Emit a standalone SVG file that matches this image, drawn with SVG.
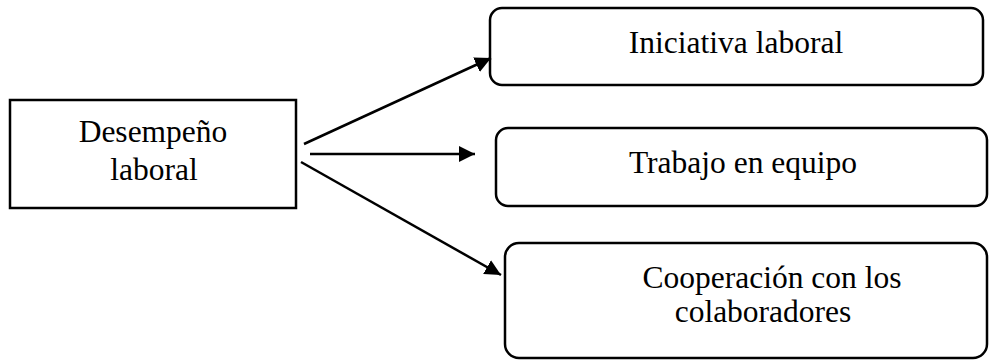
<svg xmlns="http://www.w3.org/2000/svg" width="990" height="360" viewBox="0 0 990 360">
<style>
.box{fill:#fff;stroke:#000;stroke-width:2.5}
.t{font-family:"Liberation Serif","Times New Roman",serif;font-size:31.5px;fill:#000;text-anchor:middle}
.c{stroke:#000;stroke-width:2.5;fill:none}
</style>
<defs>
<marker id="ah" markerUnits="userSpaceOnUse" markerWidth="16" markerHeight="16" refX="16" refY="8" orient="auto">
<path d="M0,0 L16,8 L0,16 z" fill="#000"/>
</marker>
</defs>
<rect width="990" height="360" fill="#fff"/>
<g id="desempeno">
<rect class="box" x="10" y="100" width="286" height="108"/>
<text class="t" x="153" y="142">Desempeño</text>
<text class="t" x="154" y="180">laboral</text>
</g>
<g id="iniciativa">
<rect class="box" x="490" y="8" width="493" height="77" rx="12"/>
<text class="t" x="736" y="53">Iniciativa laboral</text>
</g>
<g id="trabajo">
<rect class="box" x="496" y="128" width="491" height="78" rx="12"/>
<text class="t" x="743" y="173">Trabajo en equipo</text>
</g>
<g id="cooperacion">
<rect class="box" x="505" y="243" width="482" height="115" rx="14"/>
<text class="t" x="772" y="288">Cooperación con los</text>
<text class="t" x="763" y="322">colaboradores</text>
</g>
<g id="connectors">
<line class="c" x1="304" y1="144" x2="491" y2="58" marker-end="url(#ah)"/>
<line class="c" x1="310" y1="154" x2="475" y2="154" marker-end="url(#ah)"/>
<line class="c" x1="301" y1="162" x2="501" y2="275" marker-end="url(#ah)"/>
</g>
</svg>
